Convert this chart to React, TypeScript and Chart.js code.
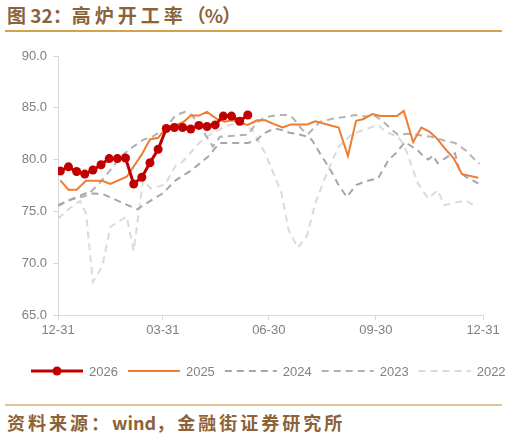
import React, { useEffect, useRef } from "react";
import { Chart, registerables } from "chart.js";

Chart.register(...registerables);

// x positions are day-of-year offsets from 12-31
const tickDays = [0, 90, 181, 273, 365];
const tickLabels = ["12-31", "03-31", "06-30", "09-30", "12-31"];
const yMin = 65;
const yMax = 90;
const yStep = 5;

const seriesNames = ["2026", "2025", "2024", "2023", "2022"];

const days2026 = [2, 9, 16, 23, 30, 37, 44, 51, 58, 65, 72, 79, 86, 93, 100, 107, 114, 121, 128, 135, 142, 149, 156, 163];
const vals2026 = [78.9, 79.3, 78.85, 78.6, 79.0, 79.5, 80.1, 80.1, 80.15, 77.65, 78.3, 79.7, 81.0, 83.0, 83.1, 83.1, 82.95, 83.3, 83.2, 83.35, 84.2, 84.2, 83.7, 84.3];

const days2025 = [2, 9, 16, 24, 38, 45, 59, 72, 79, 86, 93, 100, 108, 114, 121, 128, 136, 143, 150, 157, 163, 171, 178, 185, 193, 200, 214, 221, 241, 249, 256, 262, 270, 277, 291, 297, 305, 312, 319, 325, 332, 340, 347, 361];
const vals2025 = [78.0, 77.1, 77.1, 77.95, 77.95, 77.65, 78.35, 80.5, 81.95, 82.1, 83.1, 83.25, 83.65, 84.25, 84.25, 84.6, 83.95, 83.65, 83.8, 83.5, 83.35, 83.8, 83.8, 83.45, 83.1, 83.4, 83.4, 83.7, 83.1, 80.35, 83.75, 83.9, 84.4, 84.2, 84.2, 84.7, 81.7, 83.1, 82.7, 82.1, 81.1, 80.1, 78.6, 78.25];

const days2024 = [0, 12, 24, 38, 52, 68, 79, 90, 101, 115, 129, 135, 139, 163, 171, 176, 186, 192, 199, 208, 215, 218, 225, 234, 241, 248, 256, 264, 275, 284, 290, 298, 309, 314, 318, 322, 326, 335, 341, 345, 350, 361];
const vals2024 = [75.6, 76.2, 76.75, 76.7, 76.0, 75.2, 76.0, 76.75, 78.0, 79.0, 80.3, 81.1, 81.6, 81.6, 81.9, 82.5, 83.0, 82.85, 82.6, 82.4, 82.2, 81.9, 80.6, 79.0, 77.55, 76.4, 77.55, 77.9, 78.2, 80.0, 80.6, 81.7, 80.9, 80.3, 80.0, 80.4, 79.65, 80.3, 80.6, 78.85, 78.35, 77.7];

const days2023 = [0, 10, 24, 34, 45, 55, 64, 73, 81, 92, 101, 109, 115, 122, 133, 139, 163, 171, 178, 188, 197, 202, 210, 215, 225, 238, 249, 255, 264, 271, 278, 287, 292, 301, 308, 321, 330, 341, 350, 358, 362];
const vals2023 = [75.5, 76.1, 76.5, 77.5, 79.0, 80.4, 81.2, 81.9, 82.2, 83.0, 84.3, 84.6, 84.3, 83.2, 81.25, 82.2, 82.4, 83.6, 84.1, 84.3, 84.3, 84.0, 82.85, 82.5, 83.65, 84.0, 84.15, 84.3, 84.15, 84.3, 83.8, 82.85, 82.4, 82.5, 82.4, 82.2, 81.9, 81.6, 80.9, 80.0, 79.6];

const days2022 = [0, 10, 19, 24, 30, 38, 45, 59, 65, 73, 80, 92, 101, 107, 122, 133, 146, 158, 167, 178, 186, 192, 198, 206, 214, 221, 232, 241, 253, 275, 281, 292, 296, 300, 309, 318, 326, 332, 343, 351, 358];
const vals2022 = [74.3, 75.3, 76.0, 74.8, 68.2, 69.7, 73.5, 74.5, 71.2, 78.0, 77.2, 77.6, 79.4, 79.8, 81.7, 82.6, 83.3, 83.6, 82.85, 80.6, 78.4, 76.75, 73.2, 71.5, 72.7, 75.8, 79.0, 81.25, 82.5, 83.35, 82.7, 82.2, 81.6, 80.6, 77.7, 76.25, 77.05, 75.6, 75.9, 76.0, 75.5];

const seriesDays = [days2026, days2025, days2024, days2023, days2022];
const seriesVals = [vals2026, vals2025, vals2024, vals2023, vals2022];
const seriesColors = ["#C00000", "#ED7D31", "#A6A6A6", "#B2B2B2", "#DADADA"];

const tickFont = { family: "'Liberation Sans', Arial, sans-serif", size: 13 };
const textGray = "#808080";

const legendPlugin = {
  id: "customLegend",
  afterDraw(chart: any) {
    const ctx = chart.ctx as CanvasRenderingContext2D;
    const y = 331;
    let x = 31;
    ctx.save();
    ctx.font = "13px 'Liberation Sans', Arial, sans-serif";
    chart.data.datasets.forEach((ds: any) => {
      ctx.setLineDash(ds.borderDash || []);
      ctx.strokeStyle = ds.borderColor;
      ctx.lineWidth = ds.borderWidth;
      ctx.beginPath();
      ctx.moveTo(x, y);
      ctx.lineTo(x + 52, y);
      ctx.stroke();
      ctx.setLineDash([]);
      if (ds.pointRadius > 0) {
        ctx.fillStyle = ds.borderColor;
        ctx.beginPath();
        ctx.arc(x + 26, y, ds.pointRadius, 0, Math.PI * 2);
        ctx.fill();
      }
      ctx.fillStyle = textGray;
      ctx.textBaseline = "middle";
      ctx.textAlign = "left";
      ctx.fillText(ds.label, x + 58, y + 1);
      x += 58 + ctx.measureText(ds.label).width + 10;
    });
    ctx.restore();
  },
};

function ChartView() {
  const ref = useRef<HTMLCanvasElement | null>(null);
  useEffect(() => {
    if (!ref.current) return;
    const datasets = seriesNames.map((name, i) => ({
      label: name,
      data: seriesDays[i].map((d, j) => ({ x: d, y: seriesVals[i][j] })),
      borderColor: seriesColors[i],
      backgroundColor: seriesColors[i],
      borderWidth: i === 0 ? 3 : 2,
      borderDash: i >= 2 ? [7, 5] : [],
      pointRadius: i === 0 ? 4.5 : 0,
      pointHoverRadius: i === 0 ? 4.5 : 0,
      pointBorderWidth: 0,
      pointBackgroundColor: seriesColors[i],
      tension: 0,
      fill: false,
    }));
    const chart = new Chart(ref.current, {
      type: "line",
      data: { datasets },
      options: {
        animation: false,
        responsive: false,
        devicePixelRatio: 1,
        layout: { padding: { left: 0, right: 25, top: 16, bottom: 0 } },
        plugins: { legend: { display: false }, tooltip: { enabled: false }, title: { display: false } },
        scales: {
          x: {
            type: "linear",
            min: 0,
            max: 365,
            afterBuildTicks: (s: any) => {
              s.ticks = tickDays.map((v) => ({ value: v }));
            },
            afterFit: (s: any) => {
              s.height = 75;
            },
            ticks: {
              autoSkip: false,
              maxRotation: 0,
              padding: 3,
              color: textGray,
              font: tickFont,
              callback: (v: any) => tickLabels[tickDays.indexOf(Number(v))] ?? "",
            },
            grid: { drawOnChartArea: false, drawTicks: true, tickLength: 5, color: "#D9D9D9" },
            border: { display: true, color: "#D9D9D9", width: 1 },
          },
          y: {
            min: yMin,
            max: yMax,
            afterFit: (s: any) => {
              s.width = 58;
            },
            ticks: {
              stepSize: yStep,
              padding: 6,
              color: textGray,
              font: tickFont,
              callback: (v: any) => Number(v).toFixed(1),
            },
            grid: { drawOnChartArea: false, drawTicks: true, tickLength: 5, color: "#D9D9D9" },
            border: { display: true, color: "#D9D9D9", width: 1 },
          },
        },
      },
      plugins: [legendPlugin],
    });
    return () => chart.destroy();
  }, []);
  return (
    <canvas
      ref={ref}
      width={508}
      height={350}
      style={{ position: "absolute", left: 0, top: 40, width: 508, height: 350, display: "block" }}
    />
  );
}

export default function App() {
  const brown = "#8C6239";
  const cjk = "'Noto Sans CJK SC', 'Noto Sans', sans-serif";
  return (
    <div style={{ position: "absolute", left: 0, top: 0, width: 508, height: 438, overflow: "hidden", background: "#fff" }}>
      <div
        style={{
          position: "absolute",
          left: 7,
          top: 2,
          fontFamily: cjk,
          fontWeight: 700,
          fontSize: 19,
          color: brown,
          whiteSpace: "pre",
          lineHeight: "26px",
        }}
      >
        <span>{"图 32："}</span>
        <span style={{ letterSpacing: 4 }}>高炉开工率</span>
        <span style={{ letterSpacing: -1 }}>（%）</span>
      </div>
      <div style={{ position: "absolute", left: 5, top: 30, width: 497, height: 1.5, background: "#D4A24C" }} />
      <ChartView />
      <div style={{ position: "absolute", left: 5, top: 404, width: 497, height: 1.5, background: "#E0C497" }} />
      <div
        style={{
          position: "absolute",
          left: 7,
          top: 409,
          fontFamily: cjk,
          fontWeight: 700,
          fontSize: 18,
          color: brown,
          whiteSpace: "nowrap",
          lineHeight: "26px",
        }}
      >
        <span style={{ letterSpacing: 3 }}>资料来源：</span>
        <span style={{ letterSpacing: 0 }}>wind</span>
        <span style={{ letterSpacing: 3 }}>，金融街证券研究所</span>
      </div>
    </div>
  );
}
